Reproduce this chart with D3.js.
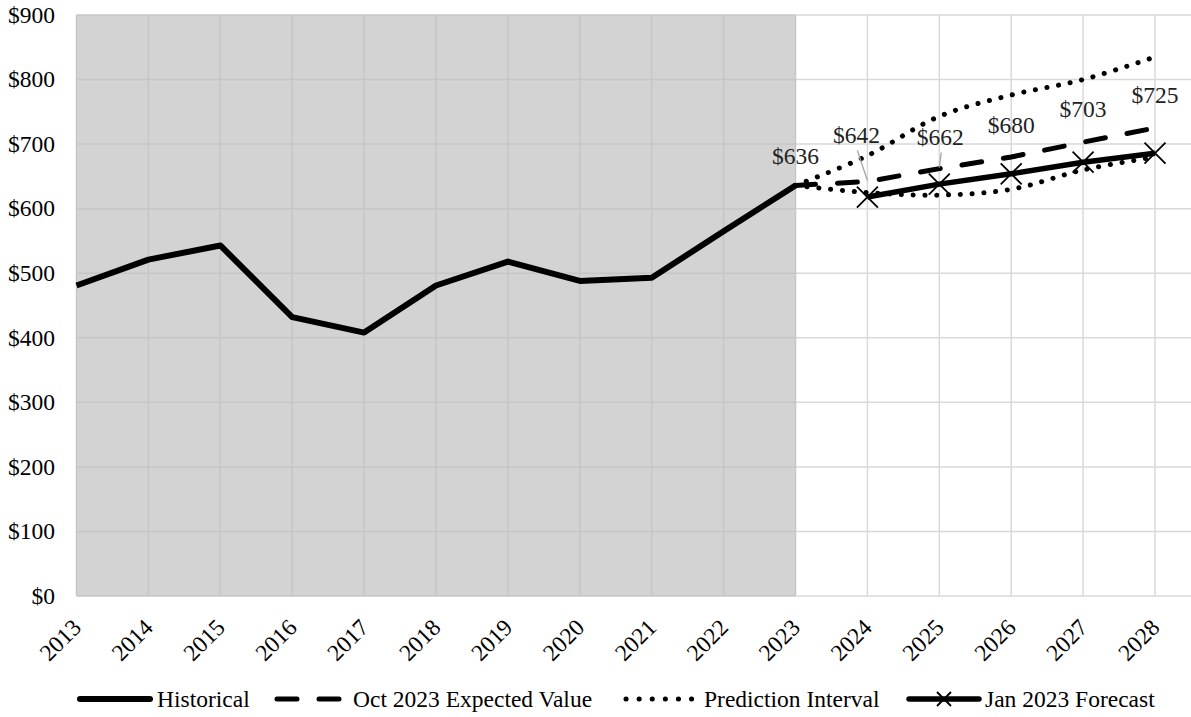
<!DOCTYPE html>
<html>
<head>
<meta charset="utf-8">
<script src="https://cdn.jsdelivr.net/npm/d3@7"></script>
<style>
  html, body { margin: 0; padding: 0; background: #fff; }
  svg, svg text { font-family: "Liberation Serif", "DejaVu Serif", "Times New Roman", Times, serif; }
  svg { display: block; }
</style>
</head>
<body>
<svg id="chart" width="1191" height="717"></svg>
<script>
// ---- Data ----
const historicalYears = [2013, 2014, 2015, 2016, 2017, 2018, 2019, 2020, 2021, 2022, 2023];
const historicalValues = [481, 521, 543, 432, 408, 481, 518, 488, 493, 565, 636];

const forecastYears = [2023, 2024, 2025, 2026, 2027, 2028];
const octExpected = [636, 642, 662, 680, 703, 725];
const piUpper = [636, 682, 743, 776, 800, 835];
const piLower = [636, 625, 621, 630, 660, 680];

const janYears = [2024, 2025, 2026, 2027, 2028];
const janForecast = [618, 638, 654, 672, 686];

const yTicks = [0, 100, 200, 300, 400, 500, 600, 700, 800, 900];
const xTicks = [2013, 2014, 2015, 2016, 2017, 2018, 2019, 2020, 2021, 2022, 2023, 2024, 2025, 2026, 2027, 2028];
const shadeEnd = 2023;

const legendLabels = ["Historical", "Oct 2023 Expected Value", "Prediction Interval", "Jan 2023 Forecast"];

// ---- Layout ----
const FS = 23.5;
const FONT = "'Liberation Serif', 'DejaVu Serif', 'Times New Roman', serif";
const pLeft = 76.5, pRight = 1155, pTop = 15, pBottom = 596;
const svg = d3.select("#chart");
const x = d3.scaleLinear().domain([2013, 2028]).range([pLeft, pRight]);
const y = d3.scaleLinear().domain([0, 900]).range([pBottom, pTop]);

// shaded historical region
svg.append("rect")
  .attr("x", x(2013)).attr("y", y(900))
  .attr("width", x(shadeEnd) - x(2013)).attr("height", y(0) - y(900))
  .attr("fill", "#d3d3d3");

// gridlines: horizontal
const gridIn = "#c6c6c6", gridOut = "#d9d9d9";
yTicks.forEach(t => {
  svg.append("line").attr("x1", x(2013)).attr("x2", x(shadeEnd))
    .attr("y1", y(t)).attr("y2", y(t)).attr("stroke", gridIn).attr("stroke-width", 1.5);
  svg.append("line").attr("x1", x(shadeEnd)).attr("x2", 1191)
    .attr("y1", y(t)).attr("y2", y(t)).attr("stroke", gridOut).attr("stroke-width", 1.5);
});
// gridlines: vertical
xTicks.forEach(t => {
  svg.append("line").attr("x1", x(t)).attr("x2", x(t))
    .attr("y1", y(900)).attr("y2", y(0))
    .attr("stroke", t <= shadeEnd ? gridIn : gridOut).attr("stroke-width", 1.5);
});

// y axis labels
svg.append("g").selectAll("text").data(yTicks).join("text")
  .attr("x", 55).attr("y", d => y(d)).attr("dy", "0.33em")
  .attr("text-anchor", "end").attr("font-size", FS).attr("font-family", FONT).attr("fill", "#000")
  .text(d => "$" + d);

// x axis labels (rotated)
svg.append("g").selectAll("text").data(xTicks).join("text")
  .attr("transform", d => `translate(${x(d) + 6},${pBottom + 33}) rotate(-45)`)
  .attr("text-anchor", "end").attr("font-size", FS).attr("font-family", FONT).attr("fill", "#000")
  .text(d => d);

// ---- Lines ----
const lineGen = (xs, ys, curve) => d3.line()
  .x((d, i) => x(xs[i])).y(d => y(d)).curve(curve || d3.curveLinear)(ys);

// prediction interval (dotted, smoothed)
[piUpper, piLower].forEach(arr => {
  svg.append("path").attr("d", lineGen(forecastYears, arr, d3.curveCatmullRom.alpha(0.5)))
    .attr("fill", "none").attr("stroke", "#000").attr("stroke-width", 5)
    .attr("stroke-linecap", "round").attr("stroke-dasharray", "0.1 11.7");
});

// Oct 2023 expected (dashed)
svg.append("path").attr("d", lineGen(forecastYears, octExpected))
  .attr("fill", "none").attr("stroke", "#000").attr("stroke-width", 5)
  .attr("stroke-linecap", "round").attr("stroke-dasharray", "20 22");

// Historical
svg.append("path").attr("d", lineGen(historicalYears, historicalValues))
  .attr("fill", "none").attr("stroke", "#000").attr("stroke-width", 6)
  .attr("stroke-linejoin", "round");

// Jan 2023 forecast with X markers
svg.append("path").attr("d", lineGen(janYears, janForecast))
  .attr("fill", "none").attr("stroke", "#000").attr("stroke-width", 5.5)
  .attr("stroke-linejoin", "round");
const mk = 10.5;
const markers = svg.append("g");
janYears.forEach((yr, i) => {
  const cx = x(yr), cy = y(janForecast[i]);
  markers.append("path")
    .attr("d", `M${cx - mk},${cy - mk}L${cx + mk},${cy + mk}M${cx - mk},${cy + mk}L${cx + mk},${cy - mk}`)
    .attr("stroke", "#000").attr("stroke-width", 1.8);
});

// ---- Data labels for Oct 2023 expected ----
const labelDx = [0, -11, 1, 0, 0, 0];
const labelDy = [-21, -39, -24, -24, -25, -25];
const leader = [false, true, true, false, false, false];
forecastYears.forEach((yr, i) => {
  const px = x(yr), py = y(octExpected[i]);
  const tx = px + labelDx[i], ty = py + labelDy[i];
  if (leader[i]) {
    svg.append("line").attr("x1", tx + 1).attr("y1", ty + 8)
      .attr("x2", px).attr("y2", py - 1)
      .attr("stroke", "#a6a6a6").attr("stroke-width", 1.3);
  }
  svg.append("text").attr("x", tx).attr("y", ty)
    .attr("text-anchor", "middle").attr("font-size", FS).attr("font-family", FONT).attr("fill", "#222")
    .text("$" + octExpected[i]);
});

// ---- Legend ----
const legY = 699;
const lg = svg.append("g");
const symX = [80, 277, 626, 909];
const txtX = [157, 353, 704, 985];
lg.append("line").attr("x1", symX[0]).attr("x2", symX[0] + 70).attr("y1", legY).attr("y2", legY)
  .attr("stroke", "#000").attr("stroke-width", 6).attr("stroke-linecap", "round");
lg.append("line").attr("x1", symX[1]).attr("x2", symX[1] + 66).attr("y1", legY).attr("y2", legY)
  .attr("stroke", "#000").attr("stroke-width", 5).attr("stroke-linecap", "round")
  .attr("stroke-dasharray", "20 22");
lg.append("line").attr("x1", symX[2]).attr("x2", symX[2] + 67).attr("y1", legY).attr("y2", legY)
  .attr("stroke", "#000").attr("stroke-width", 5).attr("stroke-linecap", "round")
  .attr("stroke-dasharray", "0.1 13");
lg.append("line").attr("x1", symX[3]).attr("x2", symX[3] + 70).attr("y1", legY).attr("y2", legY)
  .attr("stroke", "#000").attr("stroke-width", 5.5).attr("stroke-linecap", "round");
{
  const cx = symX[3] + 35, m = 7;
  lg.append("path").attr("d", `M${cx - m},${legY - m}L${cx + m},${legY + m}M${cx - m},${legY + m}L${cx + m},${legY - m}`)
    .attr("stroke", "#000").attr("stroke-width", 1.8);
}
legendLabels.forEach((t, i) => {
  lg.append("text").attr("x", txtX[i]).attr("y", legY).attr("dy", "0.33em")
    .attr("font-size", FS).attr("font-family", FONT).attr("fill", "#000").text(t);
});
</script>
</body>
</html>
